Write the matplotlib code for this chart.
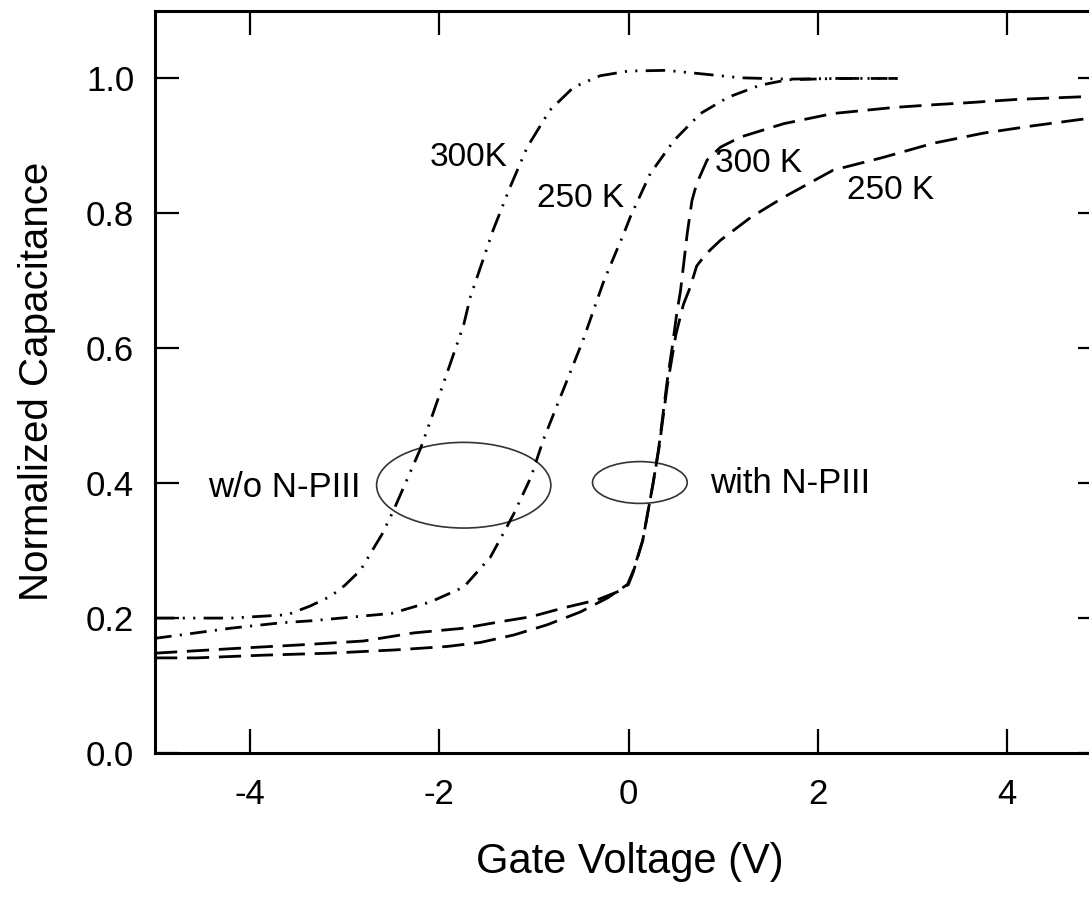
import matplotlib
matplotlib.use("Agg")
import matplotlib.pyplot as plt
from matplotlib.patches import Ellipse

plt.rcParams['font.family'] = ['Liberation Sans', 'DejaVu Sans']
plt.rcParams['axes.unicode_minus'] = False
plt.rcParams['lines.scale_dashes'] = False

# ---- data ----
# w/o N-PIII, 300 K  (dash-dot-dot)
v_wo300 = [-5.0, -4.2, -3.6, -3.36, -3.15, -3.0, -2.83, -2.6, -2.48, -2.2, -2.09, -1.88,
           -1.74, -1.67, -1.43, -1.25, -1.07, -0.83, -0.58, -0.3, 0.0, 0.4, 0.76, 1.18,
           1.68, 2.24, 2.84]
c_wo300 = [0.200, 0.200, 0.205, 0.218, 0.232, 0.248, 0.271, 0.325, 0.360, 0.450, 0.493, 0.578,
           0.635, 0.676, 0.775, 0.839, 0.898, 0.953, 0.987, 1.004, 1.011, 1.012, 1.007, 1.001,
           0.999, 1.000, 1.000]

# w/o N-PIII, 250 K  (dash-dot)
v_wo250 = [-5.0, -4.73, -4.2, -3.67, -3.35, -2.96, -2.5, -2.09, -1.74, -1.46, -1.32, -1.21,
           -1.03, -0.9, -0.69, -0.48, -0.26, -0.05, 0.02, 0.23, 0.48, 0.76, 1.05, 1.39,
           1.68, 2.2, 2.84]
c_wo250 = [0.170, 0.175, 0.185, 0.193, 0.196, 0.201, 0.207, 0.224, 0.246, 0.290, 0.326, 0.355,
           0.409, 0.464, 0.538, 0.612, 0.700, 0.770, 0.795, 0.859, 0.908, 0.948, 0.972, 0.990,
           0.998, 1.000, 1.000]

# with N-PIII, 300 K  (dashed)
v_w300 = [-5.0, -4.03, -3.5, -2.8, -2.27, -1.74, -1.38, -1.03, -0.69, -0.33, -0.08, 0.0,
          0.05, 0.15, 0.26, 0.32, 0.41, 0.46, 0.51, 0.55, 0.62, 0.67, 0.72, 0.83, 0.97,
          1.18, 1.64, 2.16, 2.8, 3.22, 3.58, 4.11, 4.64, 5.0]
c_w300 = [0.148, 0.156, 0.160, 0.166, 0.178, 0.185, 0.194, 0.202, 0.215, 0.227, 0.241, 0.250,
          0.268, 0.315, 0.400, 0.453, 0.553, 0.600, 0.652, 0.686, 0.770, 0.819, 0.844, 0.879, 0.898,
          0.913, 0.933, 0.948, 0.957, 0.961, 0.964, 0.969, 0.972, 0.974]

# with N-PIII, 250 K  (dashed)
v_w250 = [-5.0, -4.56, -3.86, -3.15, -2.44, -1.91, -1.56, -1.21, -0.86, -0.51, -0.22, -0.01,
          0.05, 0.15, 0.26, 0.32, 0.41, 0.5, 0.58, 0.65, 0.72, 0.82, 0.97, 1.29, 1.64,
          2.16, 2.69, 3.22, 3.75, 4.28, 4.87, 5.0]
c_w250 = [0.141, 0.141, 0.145, 0.148, 0.153, 0.158, 0.164, 0.175, 0.190, 0.209, 0.230, 0.250,
          0.270, 0.315, 0.400, 0.450, 0.545, 0.620, 0.665, 0.690, 0.722, 0.740, 0.760, 0.794, 0.824,
          0.864, 0.883, 0.904, 0.919, 0.930, 0.941, 0.943]

x_ticks = [-4, -2, 0, 2, 4]
y_ticks = [0.0, 0.2, 0.4, 0.6, 0.8, 1.0]
y_ticklabels = ['0.0', '0.2', '0.4', '0.6', '0.8', '1.0']

# ---- figure ----
fig = plt.figure(figsize=(10.89, 8.99), dpi=100)
ax = fig.add_axes([155/1089, (899-753)/899, (1102-155)/1089, (753-11)/899])

lw = 2.0
ax.plot(v_wo300, c_wo300, color='black', lw=lw, dashes=[14, 6, 1.5, 6, 1.5, 6])
ax.plot(v_wo250, c_wo250, color='black', lw=lw, dashes=[12, 6, 1.5, 6])
ax.plot(v_w300, c_w300, color='black', lw=lw, dashes=[16, 7])
ax.plot(v_w250, c_w250, color='black', lw=lw, dashes=[16, 7])

ax.add_patch(Ellipse((-1.74, 0.397), 1.84, 0.127, fill=False, edgecolor='#333333', lw=1.2))
ax.add_patch(Ellipse((0.12, 0.401), 1.0, 0.062, fill=False, edgecolor='#333333', lw=1.2))

tfs = 24
ax.text(-1.69, 0.883, '300K', fontsize=tfs, ha='center', va='center')
ax.text(-0.51, 0.822, '250 K', fontsize=tfs, ha='center', va='center')
ax.text(1.37, 0.874, '300 K', fontsize=tfs, ha='center', va='center')
ax.text(2.77, 0.834, '250 K', fontsize=tfs, ha='center', va='center')
ax.text(-3.63, 0.393, 'w/o N-PIII', fontsize=tfs + 1, ha='center', va='center')
ax.text(1.71, 0.399, 'with N-PIII', fontsize=tfs + 1, ha='center', va='center')

ax.set_xlim(-5, 5)
ax.set_ylim(0, 1.1)
ax.set_xticks(x_ticks)
ax.set_xticklabels([str(t) for t in x_ticks])
ax.set_yticks(y_ticks)
ax.set_yticklabels(y_ticklabels)
ax.tick_params(direction='in', length=17, width=1.6, top=True, right=True,
               labelsize=25)
ax.tick_params(axis='y', pad=15)
ax.tick_params(axis='x', pad=18)
for s in ax.spines.values():
    s.set_linewidth(2.2)

fig.text(630/1089, (899-862)/899, 'Gate Voltage (V)', fontsize=30, ha='center', va='center')
fig.text(37/1089, (899-381)/899, 'Normalized Capacitance', fontsize=29, rotation=90,
         ha='center', va='center')

fig.savefig('out.png', dpi=100)
